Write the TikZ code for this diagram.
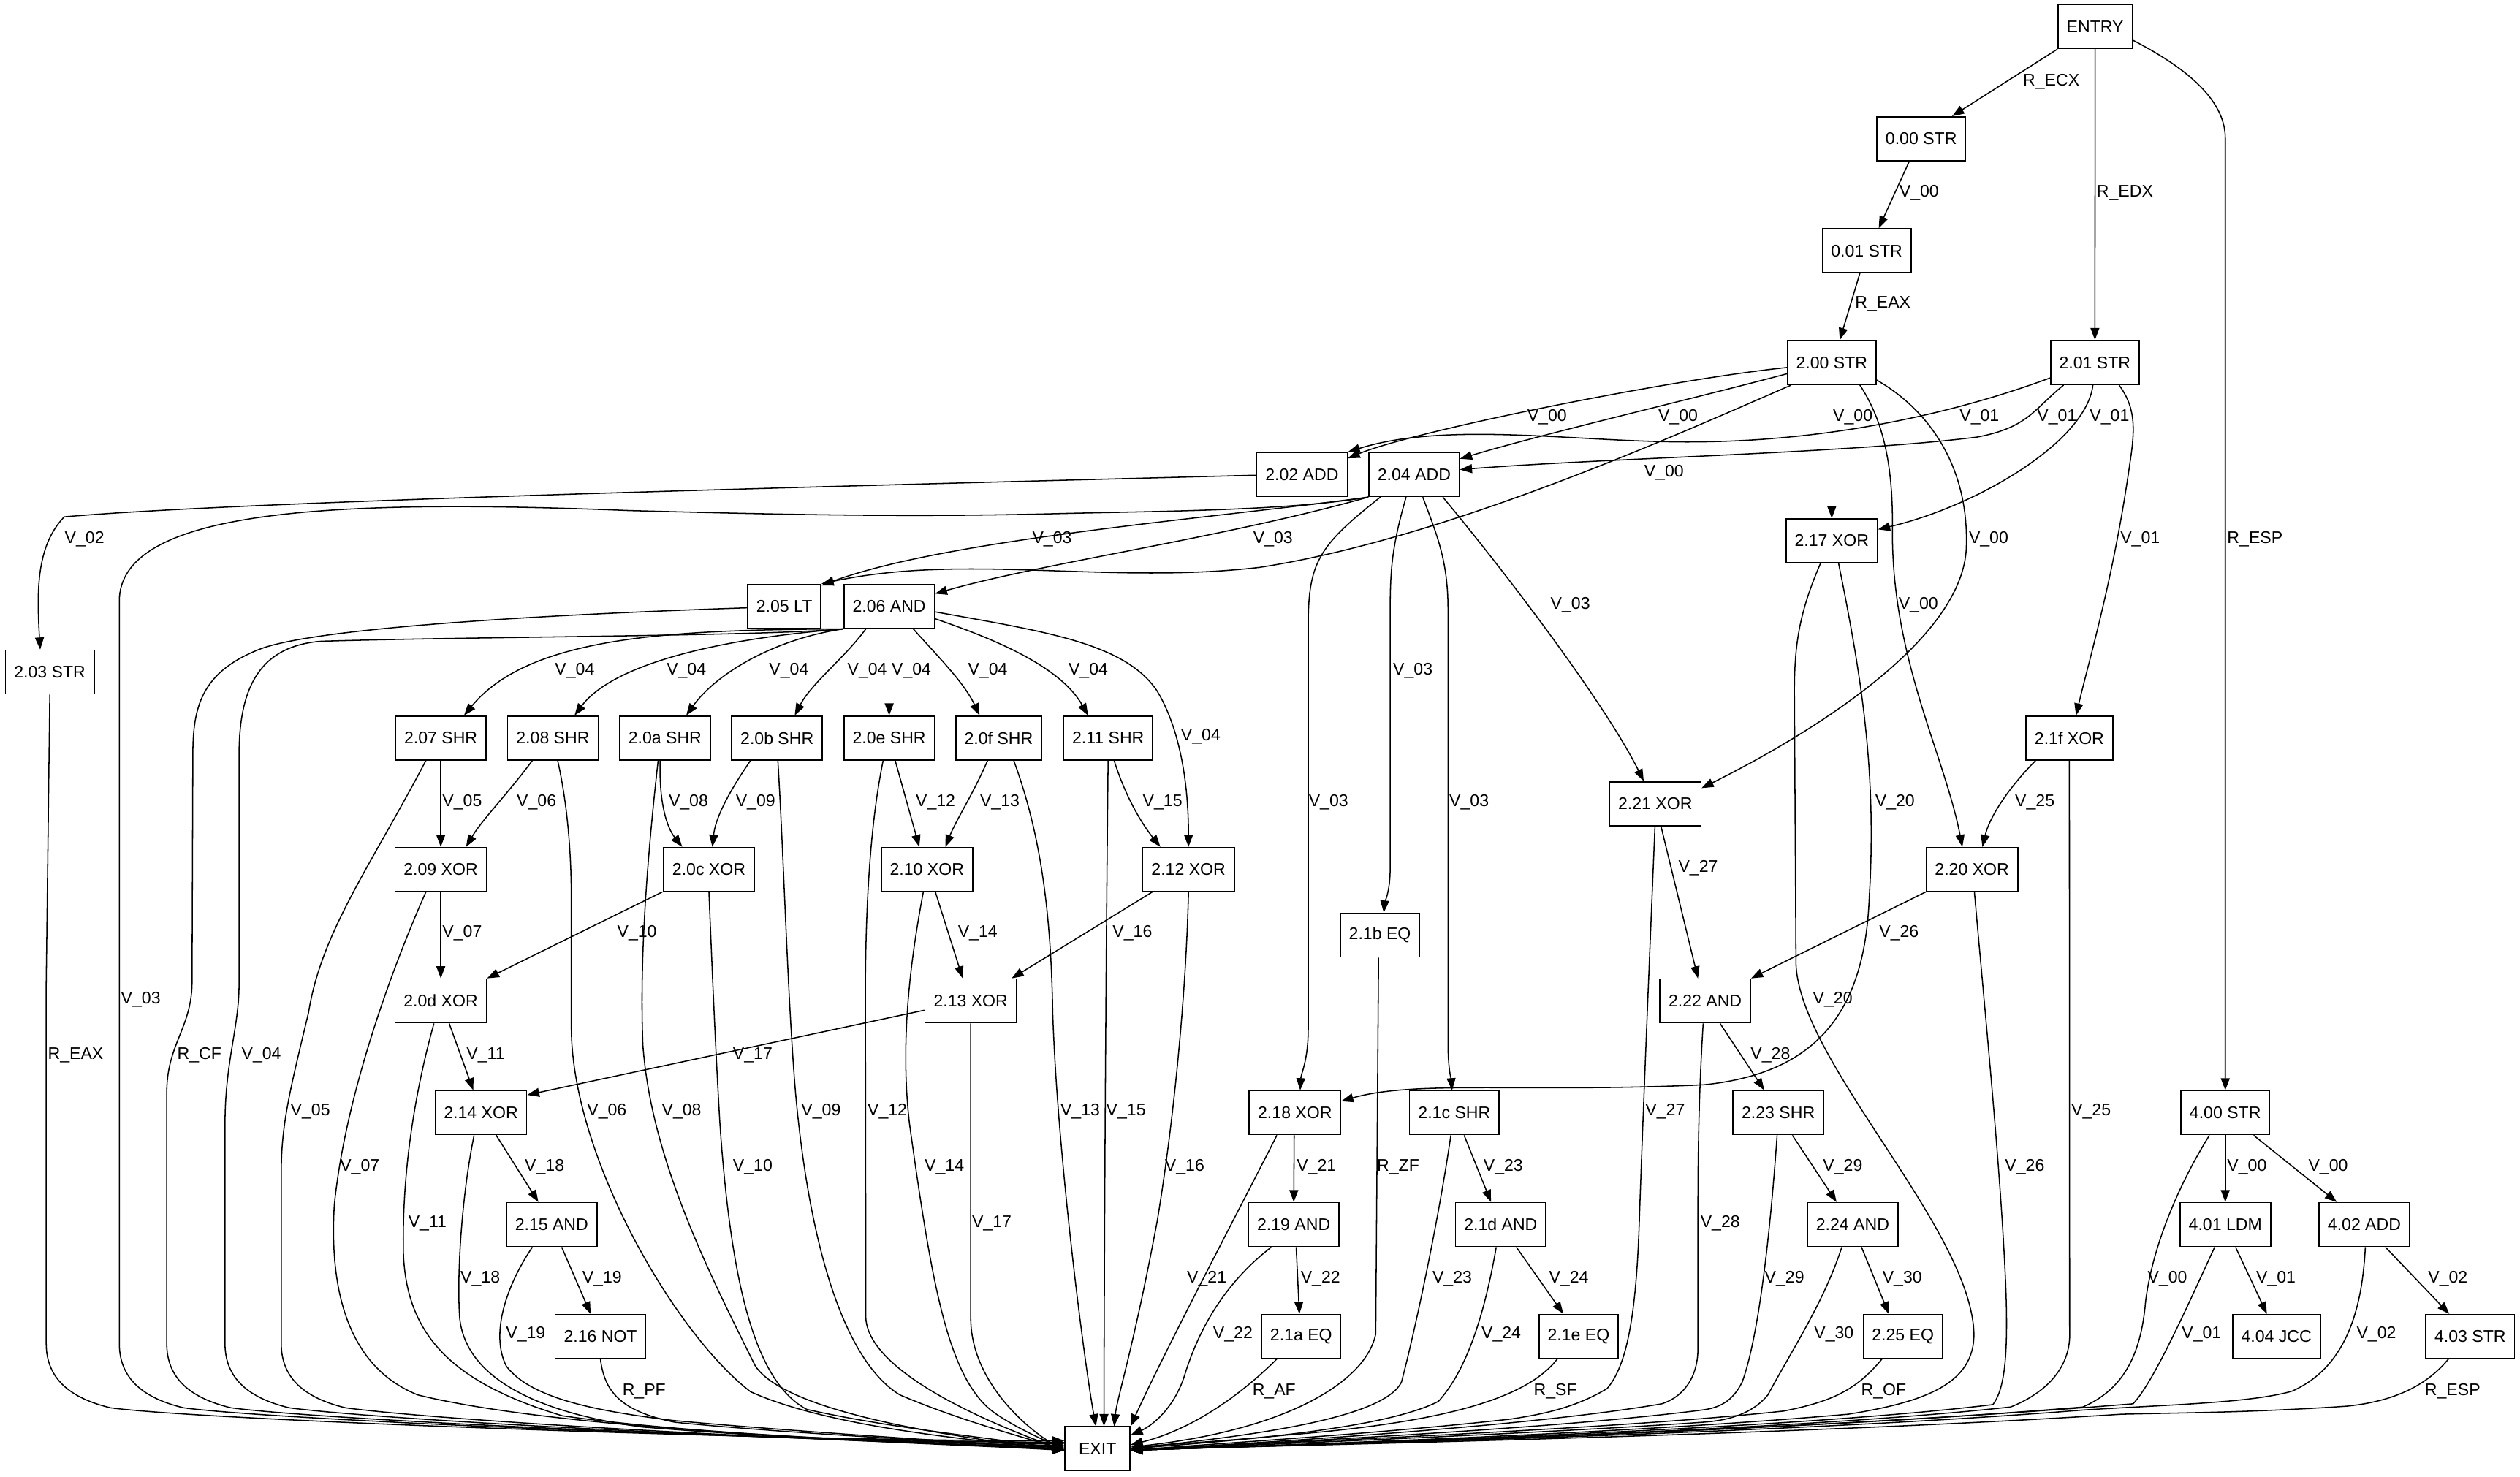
\documentclass[tikz,border=0pt]{standalone}
\usepackage{fontspec}
\setmainfont{Liberation Sans}
\usetikzlibrary{arrows.meta}
\newcommand\gfont{\fontsize{10.5}{12}\selectfont}
\tikzset{
  box/.style={draw, line width=0.75pt, minimum height=27.3pt, minimum width=40.5pt, inner xsep=5.4pt, inner ysep=0pt, font=\gfont},
  e/.style={line width=0.7pt, -{Triangle[length=7.5pt,width=5.5pt]}},
  lab/.style={anchor=west, inner sep=0pt, font=\gfont},
}
\begin{document}
\begin{tikzpicture}[x=1pt,y=-1pt]
\useasboundingbox (0,0) rectangle (1568,919);
% nodes
\node[box] (entry) at (1303.6,16.55) {ENTRY};
\node[box] (s000) at (1195.4,86.3) {0.00 STR};
\node[box] (s001) at (1161.5,156) {0.01 STR};
\node[box] (s200) at (1139.75,225.6) {2.00 STR};
\node[box] (s201) at (1303.5,225.6) {2.01 STR};
\node[box] (s202) at (810.1,295.3) {2.02 ADD};
\node[box] (s204) at (879.9,295.3) {2.04 ADD};
\node[box] (s217) at (1139.75,336.5) {2.17 XOR};
\node[box] (s203) at (31,418.2) {2.03 STR};
\node[box] (s205) at (488,377.3) {2.05 LT};
\node[box] (s206) at (553.25,377.3) {2.06 AND};
\node[box] (s207) at (274.25,459.2) {2.07 SHR};
\node[box] (s208) at (344,459.2) {2.08 SHR};
\node[box] (s20a) at (413.75,459.2) {2.0a SHR};
\node[box] (s20b) at (483.5,459.2) {2.0b SHR};
\node[box] (s20e) at (553.25,459.2) {2.0e SHR};
\node[box] (s20f) at (621.4,459.2) {2.0f SHR};
\node[box] (s211) at (689.5,459.2) {2.11 SHR};
\node[box] (s21f) at (1287.6,459.2) {2.1f XOR};
\node[box] (s221) at (1029.9,500.1) {2.21 XOR};
\node[box] (s209) at (274.25,541) {2.09 XOR};
\node[box] (s20c) at (441.1,541) {2.0c XOR};
\node[box] (s210) at (576.75,541) {2.10 XOR};
\node[box] (s212) at (739.5,541) {2.12 XOR};
\node[box] (s220) at (1227,541) {2.20 XOR};
\node[box] (s21b) at (858.6,581.9) {2.1b EQ};
\node[box] (s20d) at (274.25,622.8) {2.0d XOR};
\node[box] (s213) at (604,622.8) {2.13 XOR};
\node[box] (s222) at (1061,622.8) {2.22 AND};
\node[box] (s214) at (299.25,692.4) {2.14 XOR};
\node[box] (s218) at (805.75,692.4) {2.18 XOR};
\node[box] (s21c) at (904.9,692.4) {2.1c SHR};
\node[box] (s223) at (1106.5,692.4) {2.23 SHR};
\node[box] (s400) at (1384.6,692.4) {4.00 STR};
\node[box] (s215) at (343.25,762) {2.15 AND};
\node[box] (s219) at (805,762) {2.19 AND};
\node[box] (s21d) at (933.75,762) {2.1d AND};
\node[box] (s224) at (1152.75,762) {2.24 AND};
\node[box] (s401) at (1384.6,762) {4.01 LDM};
\node[box] (s402) at (1471.1,762) {4.02 ADD};
\node[box] (s216) at (373.6,831.6) {2.16 NOT};
\node[box] (s21a) at (809.6,831.6) {2.1a EQ};
\node[box] (s21e) at (982.25,831.6) {2.1e EQ};
\node[box] (s225) at (1184,831.6) {2.25 EQ};
\node[box] (s404) at (1416.4,831.6) {4.04 JCC};
\node[box] (s403) at (1537,831.6) {4.03 STR};
\node[box] (exit) at (682.9,901.45) {EXIT};

% top edges
\draw[e] (entry.south west) node[lab,at={(1258.5,50.7)}]{R\_ECX} -- ([xshift=19.25pt]s000.north);
\draw[e] (entry.south) node[lab,at={(1304.3,120)}]{R\_EDX} -- (s201.north);
\draw[e] ([yshift=-8.45pt]entry.east) node[lab,at={(1385.5,335.3)}]{R\_ESP} .. controls (1360,42) and (1384.6,62) .. (1384.6,86) -- (s400.north);
\draw[e] ([xshift=-7.4pt]s000.south) node[lab,at={(1181.5,120)}]{V\_00} -- ([xshift=7.5pt]s001.north);
\draw[e] ([xshift=-4.25pt]s001.south) node[lab,at={(1154,189.3)}]{R\_EAX} -- ([xshift=5pt]s200.north);
% from 2.00
\draw[e] ([yshift=-3.1pt]s200.west) node[lab,at={(950,259.6)}]{V\_00} .. controls (1040,236) and (880,268) .. ([yshift=-3.9pt]s202.north east);
\draw[e] ([yshift=-7pt]s200.west) node[lab,at={(1031.5,259.6)}]{V\_00} .. controls (1050,249) and (960,270) .. ([yshift=9.8pt]s204.east);
\draw[e] ([xshift=-25.25pt]s200.south) node[lab,at={(1022.75,294.3)}]{V\_00} .. controls (1040,272) and (900,335) .. (784,353) .. controls (690,364) and (600,344) .. (s205.north east);
\draw[e] (s200.south) node[lab,at={(1140.25,259.6)}]{V\_00} -- (s217.north);
\draw[e] ([xshift=17.5pt]s200.south) node[lab,at={(1181,376.3)}]{V\_00} .. controls (1172,262) and (1178,290) .. (1177.5,330) .. controls (1177,410) and (1210,470) .. ([xshift=-6pt]s220.north);
\draw[e] ([yshift=-10.9pt]s200.east) node[lab,at={(1224.75,335.3)}]{V\_00} .. controls (1200,255) and (1225,290) .. (1223.5,340) .. controls (1222,400) and (1120,460) .. ([yshift=9.7pt]s221.east);
% from 2.01
\draw[e] ([yshift=-9.6pt]s201.west) node[lab,at={(1219,259.6)}]{V\_01} .. controls (1230,252) and (1150,275) .. (1050,275) .. controls (980,275) and (900,262) .. (s202.north east);
\draw[e] ([xshift=-19.5pt]s201.south) node[lab,at={(1267.25,259.6)}]{V\_01} .. controls (1265,255) and (1262,266) .. (1230,272) .. controls (1150,282) and (1000,285) .. ([yshift=3.1pt]s204.east);
\draw[e] ([xshift=-1.25pt]s201.south) node[lab,at={(1300,259.6)}]{V\_01} .. controls (1298,275) and (1230,315) .. ([yshift=7.1pt]s217.east);
\draw[e] ([xshift=15pt]s201.south) node[lab,at={(1319,335.3)}]{V\_01} .. controls (1330,255) and (1328,270) .. (1325,290) .. controls (1315,360) and (1300,410) .. ([xshift=4.15pt]s21f.north);
% from 2.02 / 2.04
\draw[e] ([yshift=-0.4pt]s202.west) node[lab,at={(40,335.3)}]{V\_02} .. controls (500,303) and (150,312) .. (40,321.6) .. controls (22,340) and (23,370) .. ([xshift=-6pt]s203.north);
\draw[e] (s204.south west) node[lab,at={(75,621.8)}]{V\_03} .. controls (800,318) and (720,318) .. (654,319.7) .. controls (560,322) and (480,320) .. (392,317.7) .. controls (200,310) and (74.25,318) .. (74.25,374) -- (74.25,836) .. controls (74.25,858) and (89.25,870) .. (114.25,876) .. controls (174.25,884) and (500,897) .. ([yshift=4pt]exit.west);
\draw[e] (s204.south west) node[lab,at={(642,335.3)}]{V\_03} .. controls (760,322) and (590,335) .. ([yshift=-1pt]s205.north east);
\draw[e] (s204.south west) node[lab,at={(779.5,335.3)}]{V\_03} .. controls (760,335) and (650,350) .. ([yshift=7.9pt]s206.east);
\draw[e] ([xshift=-21pt]s204.south) node[lab,at={(814,499.2)}]{V\_03} .. controls (820,340) and (814,350) .. (814,390) -- (814,640) .. controls (814,660) and (809.5,668) .. ([xshift=3.25pt]s218.north);
\draw[e] ([xshift=-5pt]s204.south) node[lab,at={(866.5,417.2)}]{V\_03} .. controls (866,340) and (865,355) .. (865,380) -- (865,540) .. controls (865,555) and (861.5,562) .. ([xshift=2.4pt]s21b.north);
\draw[e] ([xshift=5.35pt]s204.south) node[lab,at={(901.5,499.2)}]{V\_03} .. controls (895,335) and (901,350) .. (901,380) -- (901,650) .. controls (901,665) and (903,672) .. ([xshift=-1.4pt]s21c.north);
\draw[e] ([xshift=17.85pt]s204.south) node[lab,at={(964.5,376.3)}]{V\_03} .. controls (940,360) and (1000,440) .. ([xshift=-7.15pt]s221.north);
% from 2.17
\draw[e] ([xshift=4.25pt]s217.south) node[lab,at={(1166.5,499.2)}]{V\_20} .. controls (1158,420) and (1168,480) .. (1163,560) .. controls (1160,630) and (1130,668) .. (1060,675) .. controls (950,680) and (880,672) .. ([yshift=7.2pt]s218.east);
\draw[e] ([xshift=-7pt]s217.south) node[lab,at={(1127.75,621.8)}]{V\_20} .. controls (1120,380) and (1116.5,400) .. (1116.5,430) -- (1117.5,600) .. controls (1120,660) and (1222,760) .. (1228,826) .. controls (1231,860) and (1200,872) .. (1150,880) .. controls (1000,893) and (800,899) .. ([yshift=-1pt]exit.east);
% left bundle
\draw[e] (s203.south) node[lab,at={(29.5,656.5)}]{R\_EAX} -- (28.75,612) -- (28.75,836) .. controls (28.75,858) and (43.75,870) .. (68.75,876) .. controls (128.75,884) and (500,897) .. ([yshift=5pt]exit.west);
\draw[e] ([yshift=-0.9pt]s205.west) node[lab,at={(110,656.5)}]{R\_CF} .. controls (350,382) and (200,390) .. (162.5,403.6) .. controls (125,418) and (120,440) .. (120,470) -- (119.5,612) .. controls (119,640) and (103.75,650) .. (103.75,680) -- (103.75,836) .. controls (103.75,858) and (118.75,870) .. (143.75,876) .. controls (203.75,884) and (500,897) .. ([yshift=3pt]exit.west);
\draw[e] (s206.south west) node[lab,at={(150,656.5)}]{V\_04} .. controls (470,396) and (300,396) .. (200,399) .. controls (160,402) and (148.75,430) .. (148.75,470) -- (148.75,612) .. controls (148.75,640) and (140,660) .. (140,700) -- (140,836) .. controls (140,858) and (155,870) .. (180,876) .. controls (240,884) and (500,897) .. ([yshift=2pt]exit.west);
% 2.06 fan
\draw[e] (s206.south west) node[lab,at={(345,417.2)}]{V\_04} .. controls (420,392) and (330,395) .. ([xshift=14.5pt]s207.north);
\draw[e] (s206.south west) node[lab,at={(414.5,417.2)}]{V\_04} .. controls (440,398) and (380,415) .. ([xshift=13.5pt]s208.north);
\draw[e] (s206.south west) node[lab,at={(478.25,417.2)}]{V\_04} .. controls (480,398) and (445,420) .. ([xshift=13.25pt]s20a.north);
\draw[e] ([xshift=-14.5pt]s206.south) node[lab,at={(527,417.2)}]{V\_04} .. controls (525,410) and (505,425) .. ([xshift=11pt]s20b.north);
\draw[e] (s206.south) node[lab,at={(554.5,417.2)}]{V\_04} -- (s20e.north);
\draw[e] ([xshift=15pt]s206.south) node[lab,at={(602,417.2)}]{V\_04} .. controls (585,410) and (600,425) .. ([xshift=-11.9pt]s20f.north);
\draw[e] ([yshift=-7.7pt]s206.east) node[lab,at={(664.5,417.2)}]{V\_04} .. controls (620,398) and (660,415) .. ([xshift=-12.5pt]s211.north);
\draw[e] ([yshift=-3.4pt]s206.east) node[lab,at={(734.5,458.2)}]{V\_04} .. controls (650,393) and (700,400) .. (720,430) .. controls (735,455) and (739.5,490) .. (s212.north);
% SHR row
\draw[e] (s207.south) node[lab,at={(275,499.2)}]{V\_05} -- (s209.north);
\draw[e] ([xshift=-9.25pt]s207.south) node[lab,at={(180.5,691.6)}]{V\_05} .. controls (230,540) and (200,580) .. (192,630) .. controls (180,680) and (175,700) .. (175,730) -- (175,836) .. controls (175,858) and (190,870) .. (215,876) .. controls (275,884) and (500,897) .. ([yshift=1pt]exit.west);
\draw[e] ([xshift=-12.75pt]s208.south) node[lab,at={(321.25,499.2)}]{V\_06} .. controls (315,495) and (300,510) .. ([xshift=15.75pt]s209.north);
\draw[e] ([xshift=3pt]s208.south) node[lab,at={(365,691.6)}]{V\_06} .. controls (353,500) and (355.5,530) .. (355.5,560) -- (355.5,640) .. controls (356,720) and (420,830) .. (467,866) .. controls (520,890) and (620,897) .. ([yshift=-1pt]exit.west);
\draw[e] ([xshift=-3pt]s20a.south) node[lab,at={(415.75,499.2)}]{V\_08} .. controls (410,500) and (415,515) .. ([xshift=-16.6pt]s20c.north);
\draw[e] ([xshift=-4.25pt]s20a.south) node[lab,at={(411.5,691.6)}]{V\_08} .. controls (402,540) and (398,600) .. (400,650) .. controls (405,720) and (440,790) .. (470,850) .. controls (490,880) and (600,895) .. ([yshift=-1pt]exit.west);
\draw[e] ([xshift=-16.5pt]s20b.south) node[lab,at={(457.5,499.2)}]{V\_09} .. controls (452,495) and (445,510) .. ([xshift=2.15pt]s20c.north);
\draw[e] ([xshift=0.5pt]s20b.south) node[lab,at={(498.25,691.6)}]{V\_09} .. controls (488,540) and (490,620) .. (495,680) .. controls (505,790) and (530,850) .. (560,868) .. controls (600,885) and (640,895) .. ([yshift=-1pt]exit.west);
\draw[e] ([xshift=3.75pt]s20e.south) node[lab,at={(569.5,499.2)}]{V\_12} -- ([xshift=-4.75pt]s210.north);
\draw[e] ([xshift=-3.75pt]s20e.south) node[lab,at={(539.5,691.6)}]{V\_12} .. controls (540,520) and (538,580) .. (538.5,640) -- (538.75,820) .. controls (540,850) and (600,880) .. ([yshift=-1pt]exit.west);
\draw[e] ([xshift=-6.9pt]s20f.south) node[lab,at={(609.5,499.2)}]{V\_13} .. controls (605,495) and (595,510) .. ([xshift=11.5pt]s210.north);
\draw[e] ([xshift=9.35pt]s20f.south) node[lab,at={(659.5,691.6)}]{V\_13} .. controls (648,520) and (654,570) .. (655,630) .. controls (658,720) and (675,850) .. ([xshift=-1pt]exit.north);
\draw[e] ([xshift=3.75pt]s211.south) node[lab,at={(710.75,499.2)}]{V\_15} .. controls (700,495) and (710,512) .. ([xshift=-17.5pt]s212.north);
\draw[e] (s211.south) node[lab,at={(688,691.6)}]{V\_15} .. controls (688,600) and (687,800) .. ([xshift=4pt]exit.north);
% XOR row
\draw[e] (s209.south) node[lab,at={(275,580.8)}]{V\_07} -- (s20d.north);
\draw[e] ([xshift=-9.25pt]s209.south) node[lab,at={(211.25,726.2)}]{V\_07} .. controls (245,600) and (215,680) .. (208,750) .. controls (205,800) and (215,850) .. (260,868) .. controls (350,890) and (550,897) .. (exit.west);
\draw[e] ([xshift=-29pt]s20c.south) node[lab,at={(383.75,580.8)}]{V\_10} -- (s20d.north east);
\draw[e] (s20c.south) node[lab,at={(455.75,726.2)}]{V\_10} .. controls (443,600) and (445,650) .. (448,700) .. controls (455,800) and (470,860) .. (502,877) .. controls (560,890) and (630,896) .. ([yshift=-1pt]exit.west);
\draw[e] ([xshift=5.25pt]s210.south) node[lab,at={(595.75,580.8)}]{V\_14} -- ([xshift=-5pt]s213.north);
\draw[e] ([xshift=-2.25pt]s210.south) node[lab,at={(575,726.2)}]{V\_14} .. controls (566,600) and (560,650) .. (566,700) .. controls (580,800) and (590,860) .. (620,880) .. controls (635,890) and (650,896) .. ([yshift=-1pt]exit.west);
\draw[e] ([xshift=-22.5pt]s212.south) node[lab,at={(692,580.8)}]{V\_16} -- ([xshift=25.5pt]s213.north);
\draw[e] (s212.south) node[lab,at={(724.5,726.2)}]{V\_16} .. controls (738,620) and (730,700) .. (720,760) .. controls (705,840) and (695,870) .. ([xshift=10.35pt]exit.north);
% lower left
\draw[e] ([xshift=5.25pt]s20d.south) node[lab,at={(290,656.5)}]{V\_11} -- ([xshift=-4.75pt]s214.north);
\draw[e] ([xshift=-4.25pt]s20d.south) node[lab,at={(253.75,761.3)}]{V\_11} .. controls (258,680) and (250,730) .. (251,780) .. controls (253,830) and (280,860) .. (350,881) .. controls (450,895) and (600,898) .. ([yshift=-1pt]exit.west);
\draw[e] ([yshift=-5.8pt]s213.west) node[lab,at={(455.75,656.5)}]{V\_17} -- ([yshift=11.1pt]s214.east);
\draw[e] (s213.south) node[lab,at={(604.5,761.3)}]{V\_17} -- (604,820) .. controls (604,860) and (640,890) .. ([yshift=-1pt]exit.west);
\draw[e] ([xshift=9.5pt]s214.south) node[lab,at={(326.25,726.2)}]{V\_18} -- ([xshift=-8.25pt]s215.north);
\draw[e] ([xshift=-4.25pt]s214.south) node[lab,at={(286.25,795.5)}]{V\_18} .. controls (288,740) and (284,790) .. (286,820) .. controls (290,860) and (340,880) .. (400,888) .. controls (500,896) and (600,899) .. ([yshift=-1pt]exit.west);
\draw[e] ([xshift=6.25pt]s215.south) node[lab,at={(362,795.5)}]{V\_19} -- ([xshift=-6.1pt]s216.north);
\draw[e] ([xshift=-12pt]s215.south) node[lab,at={(314.5,830.2)}]{V\_19} .. controls (315,800) and (305,830) .. (315,850) .. controls (330,870) and (370,878) .. (420,884) .. controls (520,893) and (620,898) .. ([yshift=-1pt]exit.west);
\draw[e] (s216.south) node[lab,at={(387,865.7)}]{R\_PF} .. controls (376,865) and (385,878) .. (420,885) .. controls (500,893) and (620,898) .. ([yshift=-1pt]exit.west);
% right middle
\draw[e] ([xshift=-0.5pt]s218.south) node[lab,at={(806.5,726.2)}]{V\_21} -- (s219.north);
\draw[e] ([xshift=-11.25pt]s218.south) node[lab,at={(738.25,795.5)}]{V\_21} .. controls (775,745) and (725,840) .. (exit.north east);
\draw[e] ([xshift=1.5pt]s219.south) node[lab,at={(809,795.5)}]{V\_22} -- ([xshift=-1.1pt]s21a.north);
\draw[e] ([xshift=-14pt]s219.south) node[lab,at={(754.5,830.2)}]{V\_22} .. controls (760,800) and (745,830) .. (737,856) .. controls (730,878) and (715,888) .. ([yshift=8.4pt]exit.east);
\draw[e] ([xshift=-15.1pt]s21a.south) node[lab,at={(779,865.7)}]{R\_AF} .. controls (770,870) and (740,890) .. ([yshift=2.4pt]exit.east);
\draw[e] ([xshift=-0.85pt]s21b.south) node[lab,at={(856.5,726.2)}]{R\_ZF} -- (856,830) .. controls (850,860) and (800,890) .. ([yshift=1pt]exit.east);
\draw[e] ([xshift=6.1pt]s21c.south) node[lab,at={(922.75,726.2)}]{V\_23} -- ([xshift=-6pt]s21d.north);
\draw[e] ([xshift=-2.15pt]s21c.south) node[lab,at={(891,795.5)}]{V\_23} .. controls (895,760) and (880,830) .. (872,860) .. controls (860,885) and (760,895) .. (exit.east);
\draw[e] ([xshift=9.75pt]s21d.south) node[lab,at={(963.5,795.5)}]{V\_24} -- ([xshift=-9.5pt]s21e.north);
\draw[e] ([xshift=-2.75pt]s21d.south) node[lab,at={(921.5,830.2)}]{V\_24} .. controls (925,810) and (915,850) .. (895,872) .. controls (860,890) and (760,897) .. (exit.east);
\draw[e] ([xshift=-13.25pt]s21e.south) node[lab,at={(954,865.7)}]{R\_SF} .. controls (950,870) and (900,885) .. (800,893) .. controls (760,897) and (720,899) .. (exit.east);
% right side
\draw[e] ([xshift=-21pt]s21f.south) node[lab,at={(1253.5,499.2)}]{V\_25} .. controls (1250,490) and (1238,508) .. ([xshift=6.5pt]s220.north);
\draw[e] (s21f.south) node[lab,at={(1288.5,691.6)}]{V\_25} -- (1287.75,832.5) .. controls (1287,850) and (1275,866) .. (1251,875.5) .. controls (1100,892) and (800,899) .. ([yshift=-1pt]exit.east);
\draw[e] (s220.south west) node[lab,at={(1169,580.8)}]{V\_26} -- (s222.north east);
\draw[e] ([xshift=1.5pt]s220.south) node[lab,at={(1247.25,726.2)}]{V\_26} .. controls (1236,640) and (1245,730) .. (1248,800) .. controls (1250,850) and (1246,866) .. (1240,874) .. controls (1100,891) and (800,899) .. ([yshift=-1pt]exit.east);
\draw[e] ([xshift=3.6pt]s221.south) node[lab,at={(1044,540.2)}]{V\_27} -- ([xshift=-4.5pt]s222.north);
\draw[e] ([xshift=-0.15pt]s221.south) node[lab,at={(1023.5,691.6)}]{V\_27} .. controls (1027,580) and (1022,700) .. (1020,760) .. controls (1018,820) and (1012,850) .. (1000,864) .. controls (980,876) and (960,880) .. (940,883) .. controls (860,892) and (760,898) .. ([yshift=-1pt]exit.east);
\draw[e] ([xshift=9.25pt]s222.south) node[lab,at={(1089,656.5)}]{V\_28} -- ([xshift=-8.75pt]s223.north);
\draw[e] ([xshift=-1.25pt]s222.south) node[lab,at={(1057.75,761.3)}]{V\_28} .. controls (1057,680) and (1056.5,720) .. (1056.5,750) -- (1056.5,840) .. controls (1056,860) and (1045,870) .. (1034,873.5) .. controls (950,888) and (780,898) .. ([yshift=-1pt]exit.east);
\draw[e] ([xshift=8.75pt]s223.south) node[lab,at={(1134,726.2)}]{V\_29} -- ([xshift=-10pt]s224.north);
\draw[e] ([xshift=-0.75pt]s223.south) node[lab,at={(1097.75,795.5)}]{V\_29} .. controls (1102,760) and (1095,830) .. (1084,860) .. controls (1078,872) and (1070,876) .. (1059,877.4) .. controls (960,890) and (780,898) .. ([yshift=-1pt]exit.east);
\draw[e] ([xshift=5.5pt]s224.south) node[lab,at={(1171,795.5)}]{V\_30} -- ([xshift=-8.75pt]s225.north);
\draw[e] ([xshift=-6.75pt]s224.south) node[lab,at={(1128.5,830.2)}]{V\_30} .. controls (1135,810) and (1115,840) .. (1100,868) .. controls (1090,880) and (1075,884) .. (1059,885) .. controls (960,892) and (780,899) .. ([yshift=-1pt]exit.east);
\draw[e] ([xshift=-13pt]s225.south) node[lab,at={(1157.75,865.7)}]{R\_OF} .. controls (1155,865) and (1140,872) .. (1110,878) .. controls (1000,890) and (780,898) .. ([yshift=-1pt]exit.east);
% 4.xx
\draw[e] (s400.south) node[lab,at={(1385.5,726.2)}]{V\_00} -- (s401.north);
\draw[e] ([xshift=17.65pt]s400.south) node[lab,at={(1436,726.2)}]{V\_00} -- ([xshift=-17.1pt]s402.north);
\draw[e] ([xshift=-9.85pt]s400.south) node[lab,at={(1336,795.5)}]{V\_00} .. controls (1360,730) and (1340,770) .. (1335,810) .. controls (1332,845) and (1320,865) .. (1296,875.5) .. controls (1100,892) and (800,899) .. ([yshift=-1pt]exit.east);
\draw[e] ([xshift=6.4pt]s401.south) node[lab,at={(1403.5,795.5)}]{V\_01} -- ([xshift=-5.9pt]s404.north);
\draw[e] ([xshift=-6.6pt]s401.south) node[lab,at={(1357.25,830.2)}]{V\_01} .. controls (1360,815) and (1340,860) .. (1327.25,873.5) .. controls (1100,892) and (800,899) .. ([yshift=-1pt]exit.east);
\draw[e] ([xshift=0.65pt]s402.south) node[lab,at={(1466,830.2)}]{V\_02} .. controls (1470,810) and (1462,850) .. (1426,865.7) .. controls (1400,873) and (1350,874) .. (1296,877.4) .. controls (1100,893) and (800,899) .. ([yshift=-1pt]exit.east);
\draw[e] ([xshift=13.15pt]s402.south) node[lab,at={(1510.5,795.5)}]{V\_02} -- ([xshift=-13pt]s403.north);
\draw[e] ([xshift=-13.5pt]s403.south) node[lab,at={(1508.5,865.7)}]{R\_ESP} .. controls (1510,862) and (1490,872) .. (1460,875) .. controls (1400,879) and (1360,879) .. (1320,880) .. controls (1100,894) and (800,899) .. ([yshift=-1pt]exit.east);
\end{tikzpicture}
\end{document}
